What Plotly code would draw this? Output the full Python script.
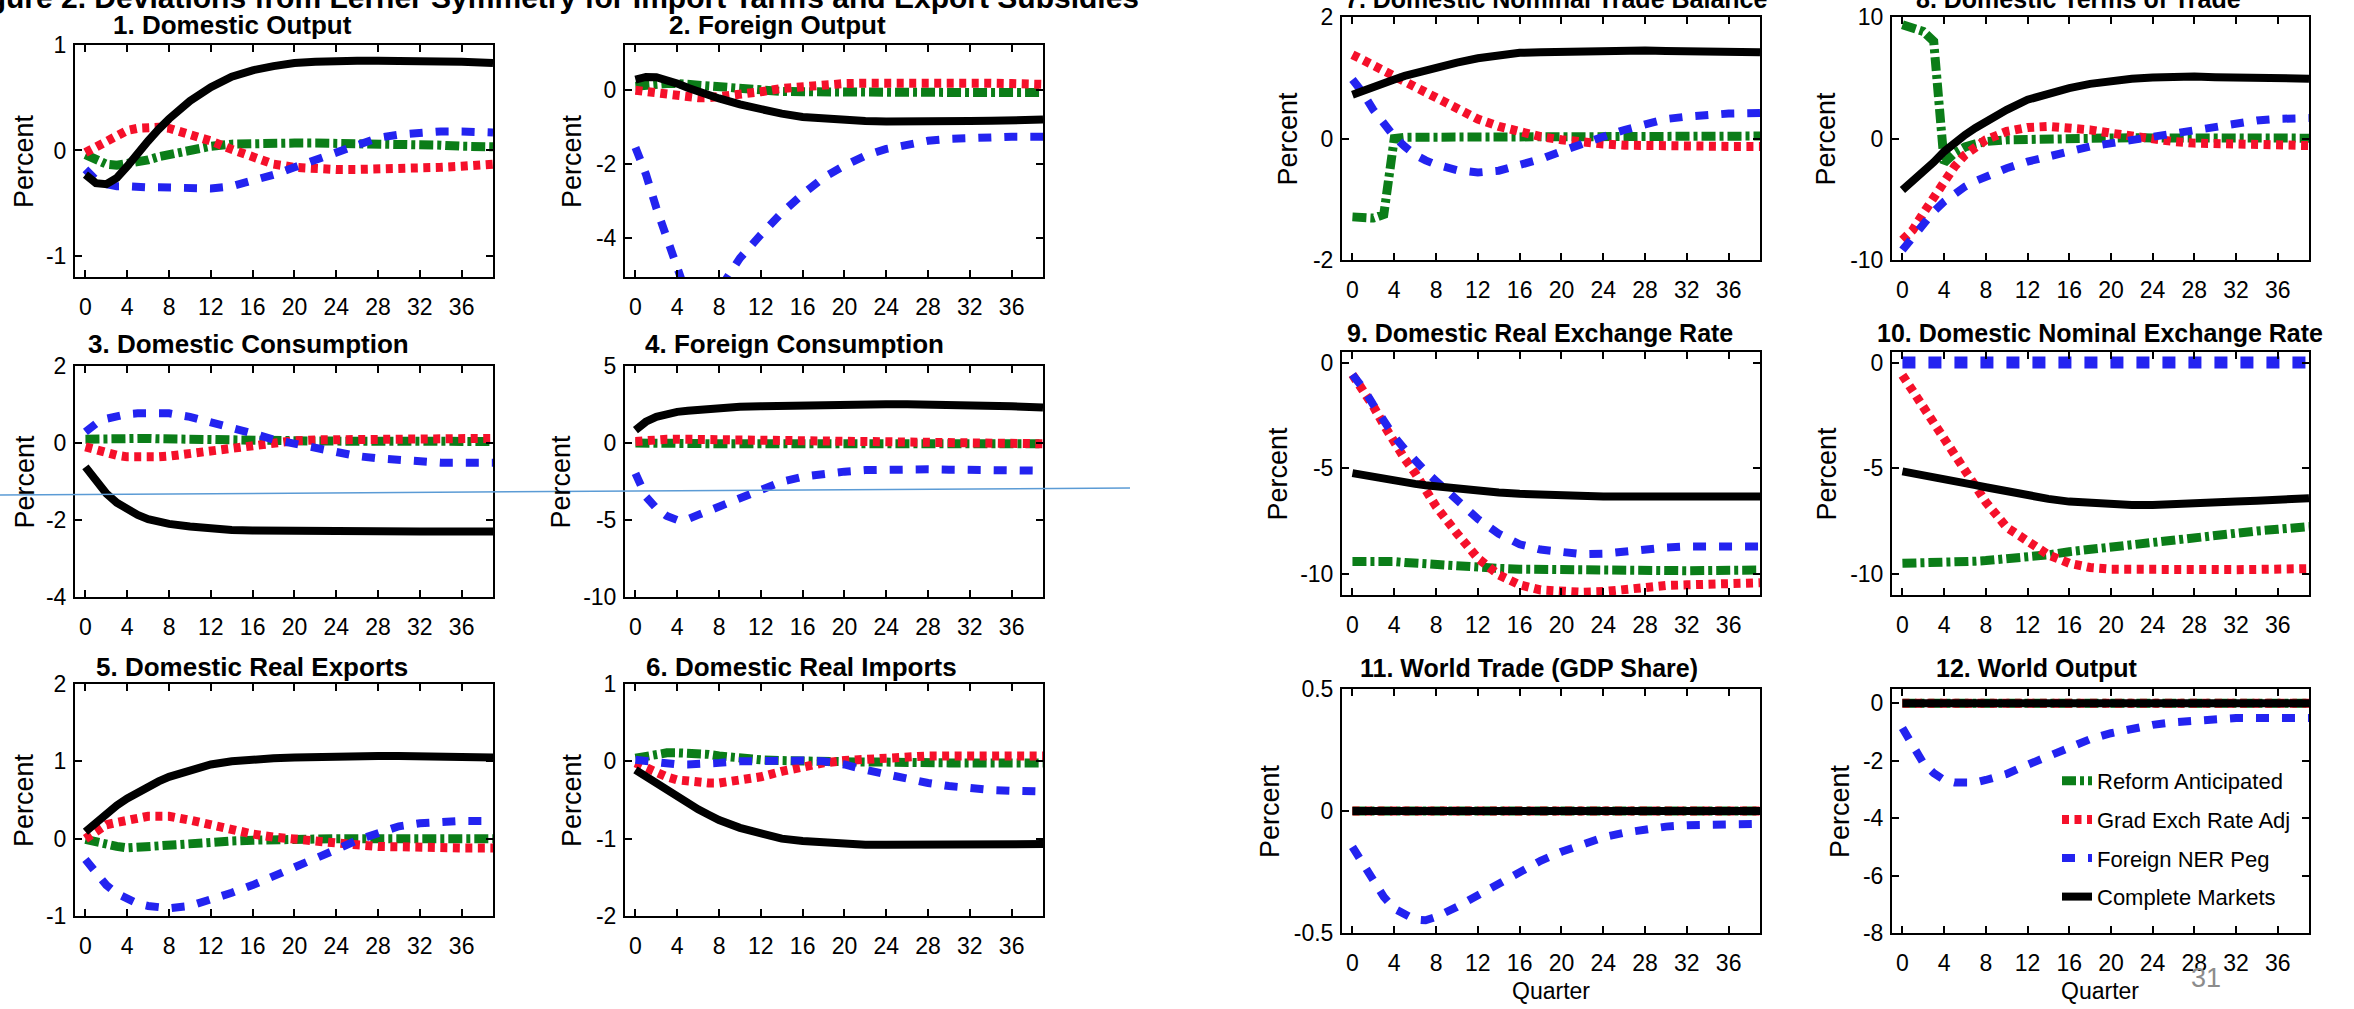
import plotly.graph_objects as go

# ---------------- data ----------------
QUARTERS = [0, 1, 2, 3, 4, 5, 6, 7, 8, 10, 12, 14, 16, 18, 20, 22, 24, 26, 28, 30, 32, 34, 36, 39]
X_TICKS = [0, 4, 8, 12, 16, 20, 24, 28, 32, 36]
SERIES_NAMES = ["Reform Anticipated", "Grad Exch Rate Adj", "Foreign NER Peg", "Complete Markets"]

PANEL_TITLES = ["1. Domestic Output", "2. Foreign Output", "3. Domestic Consumption",
                "4. Foreign Consumption", "5. Domestic Real Exports", "6. Domestic Real Imports",
                "7. Domestic Nominal Trade Balance", "8. Domestic Terms of Trade",
                "9. Domestic Real Exchange Rate", "10. Domestic Nominal Exchange Rate",
                "11. World Trade (GDP Share)", "12. World Output"]

Y_TICKS = [[-1, 0, 1], [-4, -2, 0], [-4, -2, 0, 2], [-10, -5, 0, 5], [-1, 0, 1, 2], [-2, -1, 0, 1],
           [-2, 0, 2], [-10, 0, 10], [-10, -5, 0], [-10, -5, 0], [-0.5, 0, 0.5], [-8, -6, -4, -2, 0]]
Y_RANGES = [[-1.2, 1], [-5.05, 1.2], [-4, 2], [-10, 5], [-1, 2], [-2, 1],
            [-2, 2], [-10, 10], [-11, 0.5], [-11, 0.5], [-0.5, 0.5], [-8, 0.5]]

p1_anticipated = [-0.04, -0.09, -0.13, -0.14, -0.13, -0.11, -0.09, -0.06, -0.04, 0.01, 0.04, 0.06, 0.07, 0.07, 0.07, 0.07, 0.07, 0.07, 0.06, 0.06, 0.05, 0.05, 0.04, 0.035]
p1_grad = [-0.02, 0.03, 0.09, 0.14, 0.19, 0.21, 0.22, 0.22, 0.21, 0.16, 0.09, 0.01, -0.06, -0.13, -0.16, -0.18, -0.18, -0.18, -0.18, -0.18, -0.17, -0.16, -0.15, -0.13]
p1_peg = [-0.18, -0.28, -0.32, -0.34, -0.34, -0.35, -0.35, -0.35, -0.35, -0.36, -0.36, -0.34, -0.29, -0.23, -0.16, -0.09, -0.01, 0.06, 0.12, 0.15, 0.17, 0.18, 0.18, 0.17]
p1_complete = [-0.23, -0.31, -0.32, -0.26, -0.15, -0.02, 0.09, 0.20, 0.30, 0.47, 0.60, 0.70, 0.76, 0.80, 0.83, 0.84, 0.85, 0.85, 0.85, 0.85, 0.85, 0.85, 0.84, 0.83]

p2_anticipated = [0.09, 0.13, 0.16, 0.16, 0.16, 0.14, 0.12, 0.09, 0.05, 0.0, -0.04, -0.05, -0.06, -0.07, -0.08, -0.08, -0.08, -0.08, -0.08, -0.08, -0.08, -0.08, -0.08, -0.08]
p2_grad = [-0.02, -0.06, -0.10, -0.14, -0.18, -0.20, -0.22, -0.22, -0.20, -0.15, -0.06, 0.03, 0.09, 0.14, 0.16, 0.17, 0.18, 0.19, 0.19, 0.19, 0.18, 0.17, 0.16, 0.14]
p2_peg = [-1.56, -2.28, -3.19, -4.09, -4.9, -5.6, -5.9, -5.8, -5.4, -4.54, -3.91, -3.32, -2.82, -2.37, -2.05, -1.78, -1.6, -1.47, -1.38, -1.33, -1.3, -1.28, -1.27, -1.27]
p2_complete = [0.27, 0.34, 0.33, 0.26, 0.16, 0.05, -0.06, -0.15, -0.24, -0.40, -0.54, -0.65, -0.74, -0.79, -0.83, -0.85, -0.86, -0.87, -0.88, -0.87, -0.85, -0.84, -0.83, -0.81]

p3_anticipated = [0.10, 0.11, 0.12, 0.12, 0.12, 0.12, 0.12, 0.11, 0.11, 0.10, 0.10, 0.09, 0.08, 0.07, 0.06, 0.05, 0.05, 0.04, 0.04, 0.04, 0.04, 0.04, 0.04, 0.04]
p3_grad = [-0.10, -0.19, -0.27, -0.32, -0.36, -0.37, -0.37, -0.36, -0.34, -0.27, -0.18, -0.10, -0.03, 0.03, 0.06, 0.08, 0.09, 0.10, 0.11, 0.11, 0.12, 0.12, 0.12, 0.12]
p3_peg = [0.29, 0.50, 0.63, 0.70, 0.75, 0.77, 0.78, 0.78, 0.77, 0.68, 0.55, 0.40, 0.25, 0.09, -0.03, -0.14, -0.25, -0.34, -0.40, -0.44, -0.49, -0.51, -0.51, -0.51]
p3_complete = [-0.62, -0.96, -1.31, -1.55, -1.74, -1.87, -1.98, -2.05, -2.10, -2.17, -2.23, -2.26, -2.27, -2.28, -2.29, -2.30, -2.30, -2.30, -2.30, -2.30, -2.30, -2.30, -2.30, -2.30]

p4_anticipated = [0.0, -0.02, -0.03, -0.04, -0.05, -0.05, -0.05, -0.05, -0.05, -0.05, -0.05, -0.05, -0.05, -0.05, -0.05, -0.05, -0.05, -0.05, -0.05, -0.05, -0.05, -0.05, -0.05, -0.05]
p4_grad = [0.10, 0.18, 0.22, 0.24, 0.25, 0.24, 0.23, 0.22, 0.20, 0.18, 0.15, 0.12, 0.10, 0.07, 0.05, 0.03, 0.02, 0.01, 0.0, -0.01, -0.02, -0.03, -0.04, -0.05]
p4_peg = [-1.97, -3.48, -4.24, -4.74, -5.0, -4.95, -4.67, -4.4, -4.13, -3.48, -2.94, -2.51, -2.19, -1.97, -1.86, -1.76, -1.71, -1.70, -1.71, -1.73, -1.76, -1.78, -1.80, -1.80]
p4_complete = [0.84, 1.38, 1.70, 1.90, 2.02, 2.10, 2.17, 2.24, 2.30, 2.35, 2.39, 2.43, 2.46, 2.48, 2.50, 2.51, 2.52, 2.52, 2.52, 2.50, 2.46, 2.43, 2.39, 2.30]

p5_anticipated = [-0.01, -0.05, -0.08, -0.10, -0.12, -0.11, -0.10, -0.08, -0.07, -0.05, -0.04, -0.03, -0.02, -0.01, 0.0, 0.0, 0.0, 0.0, 0.0, 0.0, 0.0, 0.0, 0.0, 0.0]
p5_grad = [0.0, 0.10, 0.18, 0.21, 0.24, 0.27, 0.29, 0.29, 0.29, 0.24, 0.18, 0.11, 0.06, 0.02, -0.01, -0.03, -0.05, -0.08, -0.10, -0.11, -0.11, -0.12, -0.12, -0.12]
p5_peg = [-0.27, -0.45, -0.60, -0.71, -0.79, -0.84, -0.87, -0.89, -0.90, -0.87, -0.79, -0.70, -0.60, -0.49, -0.37, -0.25, -0.14, -0.02, 0.08, 0.16, 0.20, 0.22, 0.23, 0.23]
p5_complete = [0.09, 0.21, 0.33, 0.43, 0.52, 0.60, 0.67, 0.74, 0.80, 0.89, 0.96, 1.00, 1.03, 1.04, 1.05, 1.06, 1.07, 1.07, 1.07, 1.07, 1.07, 1.07, 1.06, 1.05]

p6_anticipated = [0.04, 0.07, 0.10, 0.11, 0.11, 0.11, 0.10, 0.09, 0.07, 0.04, 0.02, 0.01, 0.0, -0.01, -0.01, -0.01, -0.01, -0.02, -0.02, -0.02, -0.02, -0.02, -0.02, -0.02]
p6_grad = [-0.02, -0.09, -0.15, -0.20, -0.24, -0.26, -0.28, -0.28, -0.28, -0.25, -0.20, -0.13, -0.07, -0.02, 0.01, 0.03, 0.05, 0.06, 0.07, 0.07, 0.07, 0.07, 0.07, 0.07]
p6_peg = [0.02, 0.0, -0.02, -0.03, -0.04, -0.04, -0.04, -0.03, -0.02, 0.0, 0.01, 0.01, 0.01, 0.0, -0.04, -0.11, -0.17, -0.24, -0.28, -0.32, -0.35, -0.37, -0.38, -0.39]
p6_complete = [-0.11, -0.20, -0.28, -0.37, -0.45, -0.54, -0.62, -0.69, -0.76, -0.86, -0.94, -1.00, -1.03, -1.05, -1.07, -1.08, -1.08, -1.08, -1.08, -1.08, -1.08, -1.08, -1.08, -1.07]

p7_anticipated = [-1.29, -1.30, -1.31, -1.25, 0.0, 0.02, 0.02, 0.02, 0.02, 0.03, 0.03, 0.04, 0.04, 0.04, 0.04, 0.04, 0.04, 0.04, 0.04, 0.04, 0.04, 0.04, 0.04, 0.04]
p7_grad = [1.38, 1.30, 1.21, 1.12, 1.02, 0.94, 0.85, 0.76, 0.66, 0.48, 0.32, 0.20, 0.10, 0.03, -0.02, -0.07, -0.09, -0.11, -0.12, -0.13, -0.13, -0.13, -0.13, -0.13]
p7_peg = [0.97, 0.75, 0.47, 0.23, 0.03, -0.13, -0.27, -0.36, -0.43, -0.52, -0.56, -0.53, -0.45, -0.34, -0.21, -0.08, 0.03, 0.14, 0.24, 0.32, 0.36, 0.39, 0.41, 0.42]
p7_complete = [0.72, 0.79, 0.85, 0.91, 0.97, 1.03, 1.08, 1.13, 1.18, 1.25, 1.32, 1.37, 1.41, 1.42, 1.43, 1.44, 1.45, 1.45, 1.45, 1.44, 1.43, 1.43, 1.43, 1.42]

p8_anticipated = [9.37, 9.10, 8.80, 8.00, -2.0, -1.2, -0.7, -0.45, -0.25, -0.11, -0.05, 0.0, 0.03, 0.05, 0.08, 0.07, 0.05, 0.04, 0.03, 0.03, 0.03, 0.03, 0.03, 0.03]
p8_grad = [-8.35, -7.53, -6.15, -4.78, -3.41, -2.31, -1.35, -0.70, -0.11, 0.58, 0.91, 0.99, 0.93, 0.71, 0.44, 0.16, -0.05, -0.25, -0.38, -0.45, -0.52, -0.55, -0.58, -0.58]
p8_peg = [-9.18, -8.08, -6.98, -6.02, -5.19, -4.50, -3.96, -3.50, -3.13, -2.45, -1.90, -1.43, -1.07, -0.66, -0.38, -0.11, 0.22, 0.49, 0.77, 1.04, 1.32, 1.48, 1.62, 1.68]
p8_complete = [-4.23, -3.50, -2.86, -1.95, -1.07, -0.35, 0.30, 0.87, 1.40, 2.36, 3.19, 3.74, 4.15, 4.50, 4.75, 4.92, 5.03, 5.11, 5.11, 5.05, 5.03, 5.00, 4.97, 4.92]

p9_anticipated = [-9.42, -9.40, -9.37, -9.40, -9.42, -9.46, -9.50, -9.54, -9.58, -9.64, -9.69, -9.74, -9.78, -9.80, -9.82, -9.84, -9.85, -9.85, -9.85, -9.85, -9.85, -9.84, -9.83, -9.82]
p9_grad = [-0.57, -1.30, -2.07, -2.95, -3.81, -4.55, -5.23, -6.00, -6.81, -8.08, -9.26, -10.05, -10.52, -10.76, -10.84, -10.87, -10.84, -10.72, -10.60, -10.55, -10.52, -10.48, -10.45, -10.42]
p9_peg = [-0.57, -1.20, -2.00, -2.80, -3.50, -4.10, -4.65, -5.15, -5.60, -6.50, -7.40, -8.10, -8.60, -8.85, -9.00, -9.07, -9.05, -8.95, -8.80, -8.75, -8.70, -8.68, -8.65, -8.70]
p9_complete = [-5.23, -5.33, -5.42, -5.51, -5.60, -5.67, -5.74, -5.81, -5.87, -5.99, -6.09, -6.15, -6.21, -6.26, -6.31, -6.33, -6.34, -6.34, -6.34, -6.34, -6.34, -6.34, -6.34, -6.34]

p10_anticipated = [-9.50, -9.50, -9.49, -9.48, -9.47, -9.45, -9.43, -9.40, -9.37, -9.30, -9.22, -9.10, -8.95, -8.83, -8.71, -8.60, -8.48, -8.36, -8.24, -8.15, -8.05, -7.97, -7.89, -7.76]
p10_grad = [-0.60, -1.35, -2.10, -2.85, -3.60, -4.35, -5.10, -5.85, -6.60, -7.80, -8.50, -9.10, -9.50, -9.70, -9.78, -9.80, -9.82, -9.82, -9.82, -9.81, -9.80, -9.79, -9.78, -9.75]
p10_peg = [0, 0, 0, 0, 0, 0, 0, 0, 0, 0, 0, 0, 0, 0, 0, 0, 0, 0, 0, 0, 0, 0, 0, 0]
p10_complete = [-5.15, -5.23, -5.31, -5.41, -5.52, -5.61, -5.71, -5.80, -5.90, -6.10, -6.29, -6.45, -6.58, -6.66, -6.70, -6.74, -6.74, -6.72, -6.66, -6.62, -6.58, -6.54, -6.50, -6.42]

p11_anticipated = [0, 0, 0, 0, 0, 0, 0, 0, 0, 0, 0, 0, 0, 0, 0, 0, 0, 0, 0, 0, 0, 0, 0, 0]
p11_grad = [0, 0, 0, 0, 0, 0, 0, 0, 0, 0, 0, 0, 0, 0, 0, 0, 0, 0, 0, 0, 0, 0, 0, 0]
p11_peg = [-0.147, -0.215, -0.284, -0.352, -0.400, -0.427, -0.445, -0.448, -0.434, -0.393, -0.345, -0.297, -0.249, -0.204, -0.167, -0.136, -0.108, -0.089, -0.074, -0.064, -0.058, -0.055, -0.053, -0.053]
p11_complete = [0, 0, 0, 0, 0, 0, 0, 0, 0, 0, 0, 0, 0, 0, 0, 0, 0, 0, 0, 0, 0, 0, 0, 0]

p12_anticipated = [0, 0, 0, 0, 0, 0, 0, 0, 0, 0, 0, 0, 0, 0, 0, 0, 0, 0, 0, 0, 0, 0, 0, 0]
p12_grad = [0, 0, 0, 0, 0, 0, 0, 0, 0, 0, 0, 0, 0, 0, 0, 0, 0, 0, 0, 0, 0, 0, 0, 0]
p12_peg = [-0.86, -1.50, -2.08, -2.43, -2.67, -2.76, -2.78, -2.76, -2.67, -2.46, -2.14, -1.83, -1.53, -1.25, -1.04, -0.86, -0.75, -0.66, -0.59, -0.55, -0.51, -0.51, -0.51, -0.51]
p12_complete = [0, 0, 0, 0, 0, 0, 0, 0, 0, 0, 0, 0, 0, 0, 0, 0, 0, 0, 0, 0, 0, 0, 0, 0]

PANELS = [
    [p1_anticipated, p1_grad, p1_peg, p1_complete],
    [p2_anticipated, p2_grad, p2_peg, p2_complete],
    [p3_anticipated, p3_grad, p3_peg, p3_complete],
    [p4_anticipated, p4_grad, p4_peg, p4_complete],
    [p5_anticipated, p5_grad, p5_peg, p5_complete],
    [p6_anticipated, p6_grad, p6_peg, p6_complete],
    [p7_anticipated, p7_grad, p7_peg, p7_complete],
    [p8_anticipated, p8_grad, p8_peg, p8_complete],
    [p9_anticipated, p9_grad, p9_peg, p9_complete],
    [p10_anticipated, p10_grad, p10_peg, p10_complete],
    [p11_anticipated, p11_grad, p11_peg, p11_complete],
    [p12_anticipated, p12_grad, p12_peg, p12_complete],
]

# ---------------- layout geometry (pixels) ----------------
W, H = 2354, 1009
# (left, right, top, bottom) for each panel
BOXES = [(75, 493, 45, 277), (625, 1043, 45, 277),
         (75, 493, 366, 597), (625, 1043, 366, 597),
         (75, 493, 684, 916), (625, 1043, 684, 916),
         (1342, 1760, 17, 260), (1892, 2309, 17, 260),
         (1342, 1760, 352, 595), (1892, 2309, 352, 595),
         (1342, 1760, 689, 933), (1892, 2309, 689, 933)]
TITLE_POS = [(232, 25), (777, 25), (248, 344), (794, 344), (252, 667), (801, 667),
             (1556, -1), (2078, -1), (1540, 333), (2100, 333), (1529, 668), (2037, 668)]
PERCENT_X = [24, 572, 24, 560, 24, 572, 1288, 1826, 1277, 1826, 1270, 1840]

def fx(p):
    return p / W

def fy(p):
    return 1 - p / H

SANS = "Liberation Sans, Arial, sans-serif"

STYLES = [dict(color="#0b7d18", width=9, dash="14px,4px,4px,4px"),
          dict(color="#f5102a", width=9, dash="7px,5.5px"),
          dict(color="#2323f0", width=8, dash="13px,13px"),
          dict(color="#000000", width=8, dash="solid")]

fig = go.Figure()
for k, series in enumerate(PANELS):
    ax = "" if k == 0 else str(k + 1)
    for s, vals in enumerate(series):
        st = dict(STYLES[s])
        if k == 9 and s == 2:
            st["width"] = 12
        fig.add_trace(go.Scatter(
            x=QUARTERS, y=vals, mode="lines", line=st, name=SERIES_NAMES[s],
            legendgroup="g%d" % s,
            xaxis="x" + ax, yaxis="y" + ax, showlegend=(k == 11), hoverinfo="skip"))

layout = dict(width=W, height=H, margin=dict(l=0, r=0, t=0, b=0, autoexpand=False),
              paper_bgcolor="white", plot_bgcolor="white", showlegend=True)

def fmt(v):
    return "%g" % v

for k, (l, r, t, b) in enumerate(BOXES):
    ax = "" if k == 0 else str(k + 1)
    common = dict(showline=True, linecolor="black", linewidth=2, mirror="ticks",
                  ticks="inside", ticklen=7, tickwidth=1.5, tickcolor="black",
                  showgrid=False, zeroline=False, automargin=False,
                  tickfont=dict(family=SANS, size=23, color="black"))
    layout["xaxis" + ax] = dict(common, domain=[fx(l), fx(r)], range=[-1, 39],
                                 anchor="y" + ax, tickvals=X_TICKS,
                                 ticktext=[str(v) for v in X_TICKS], ticklabelstandoff=8)
    layout["yaxis" + ax] = dict(common, domain=[fy(b), fy(t)], range=Y_RANGES[k],
                                 anchor="x" + ax, tickvals=Y_TICKS[k],
                                 ticktext=[fmt(v) for v in Y_TICKS[k]], ticklabelstandoff=2)

annotations = []
for k, (tx, ty) in enumerate(TITLE_POS):
    annotations.append(dict(text="<b>" + PANEL_TITLES[k] + "</b>", x=fx(tx), y=fy(ty),
                            xref="paper", yref="paper", showarrow=False,
                            xanchor="center", yanchor="middle",
                            font=dict(family=SANS, size=26 if k < 6 else 25, color="black")))
for k, (l, r, t, b) in enumerate(BOXES):
    annotations.append(dict(text="Percent", x=fx(PERCENT_X[k]), y=fy((t + b) / 2),
                            xref="paper", yref="paper", showarrow=False, textangle=-90,
                            xanchor="center", yanchor="middle",
                            font=dict(family=SANS, size=27, color="black")))
for qx in [1551, 2100]:
    annotations.append(dict(text="Quarter", x=fx(qx), y=fy(991), xref="paper", yref="paper",
                            showarrow=False, xanchor="center", yanchor="middle",
                            font=dict(family=SANS, size=23, color="black")))
annotations.append(dict(text="<b>Figure 2. Deviations from Lerner Symmetry for Import Tariffs and Export Subsidies</b>",
                        x=fx(1141), y=fy(-3), xref="paper", yref="paper", showarrow=False,
                        xanchor="right", yanchor="middle",
                        font=dict(family=SANS, size=30, color="black")))
annotations.append(dict(text="31", x=fx(2206), y=fy(978), xref="paper", yref="paper",
                        showarrow=False, xanchor="center", yanchor="middle",
                        font=dict(family=SANS, size=27, color="#8c8c8c")))
layout["annotations"] = annotations

layout["shapes"] = [dict(type="line", xref="paper", yref="paper", x0=0, y0=fy(495),
                         x1=fx(1130), y1=fy(488), line=dict(color="#5b9bd5", width=1.5))]

layout["legend"] = dict(x=fx(2057), y=fy(760), xanchor="left", yanchor="top",
                        bgcolor="rgba(0,0,0,0)", borderwidth=0, tracegroupgap=7,
                        font=dict(family=SANS, size=22, color="black"))

fig.update_layout(**layout)
fig.write_html("out.html")
